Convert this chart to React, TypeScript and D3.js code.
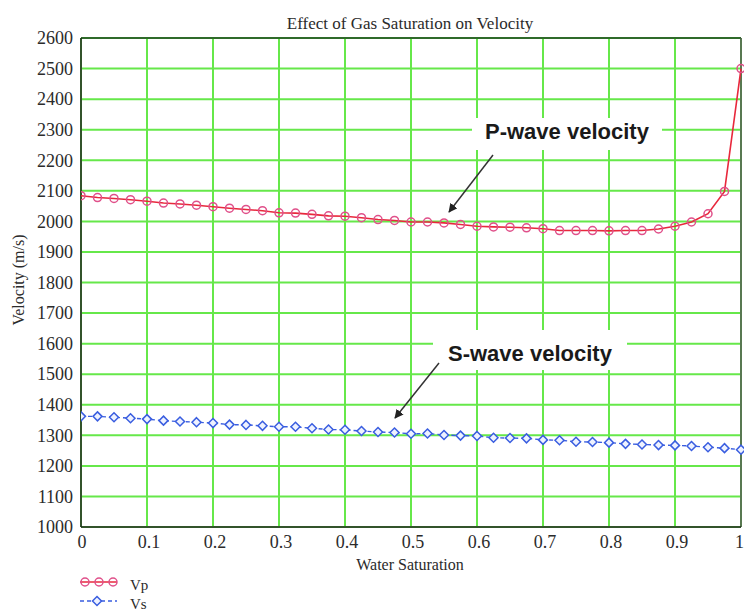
import React from "react";
import * as d3 from "d3";

const waterSaturation: number[] = d3.range(0, 41).map((i) => i / 40);
const vp: number[] = [
  2084, 2078, 2075, 2071, 2066, 2060, 2057, 2053, 2048, 2043, 2039, 2035, 2028,
  2027, 2023, 2018, 2017, 2012, 2006, 2003, 1998, 1998, 1995, 1990, 1984, 1982,
  1981, 1979, 1976, 1970, 1970, 1970, 1969, 1970, 1970, 1975, 1984, 1998, 2025,
  2098, 2500,
];
const vs: number[] = [
  1362, 1362, 1359, 1356, 1353, 1348, 1345, 1343, 1340, 1335, 1334, 1331, 1328,
  1328, 1323, 1319, 1318, 1314, 1311, 1309, 1305, 1306, 1301, 1299, 1298, 1292,
  1291, 1290, 1285, 1284, 1279, 1278, 1276, 1272, 1270, 1268, 1267, 1265, 1261,
  1258, 1253,
];
const yTicks: number[] = d3.range(1000, 2601, 100);
const xTicks: number[] = [0, 0.1, 0.2, 0.3, 0.4, 0.5, 0.6, 0.7, 0.8, 0.9, 1];
const xTickLabels: string[] = ["0", "0.1", "0.2", "0.3", "0.4", "0.5", "0.6", "0.7", "0.8", "0.9", "1"];
const legendLabels: string[] = ["Vp", "Vs"];

const W = 744;
const H = 613;
const L = 81, R = 741, T = 38, B = 527;

const serifStyle = { fontFamily: '"Liberation Serif", "Times New Roman", "DejaVu Serif", serif' };
const sansStyle = { fontFamily: '"Liberation Sans", Arial, sans-serif', fontWeight: 700 };

export default function App() {
  const x = d3.scaleLinear().domain([0, 1]).range([L, R]);
  const y = d3.scaleLinear().domain([1000, 2600]).range([B, T]);
  const vpPts = waterSaturation.map((w, i) => [w, vp[i]] as [number, number]);
  const vsPts = waterSaturation.map((w, i) => [w, vs[i]] as [number, number]);
  const line = d3.line<[number, number]>().x((d) => x(d[0])).y((d) => y(d[1]));
  const grid = "#66e84a";
  const vpLine = "#e8283c";
  const vpMark = "#e0508a";
  const vsCol = "#3a5ee0";
  const ink = "#2b2b2b";
  const diamond = (cx: number, cy: number, s: number) =>
    `M${cx},${cy - s}L${cx + s},${cy}L${cx},${cy + s}L${cx - s},${cy}Z`;

  return (
    <div style={{ position: "absolute", left: 0, top: 0 }}>
      <svg width={W} height={H} style={{ display: "block", background: "#fff" }}>
        <defs>
          <clipPath id="plot">
            <rect x={L} y={T - 6} width={R - L + 3} height={B - T + 6} />
          </clipPath>
          <marker id="arr" viewBox="0 0 10 10" refX="9" refY="5" markerWidth="9" markerHeight="9" orient="auto" markerUnits="userSpaceOnUse">
            <path d="M0,0L10,5L0,10Z" fill="#222" />
          </marker>
        </defs>
        <text x={410} y={29} textAnchor="middle" style={serifStyle} fontSize={17} fill={ink}>
          Effect of Gas Saturation on Velocity
        </text>
        {yTicks.map((t) => (
          <line key={"gy" + t} x1={L} x2={R} y1={y(t)} y2={y(t)} stroke={grid} strokeWidth={2} />
        ))}
        {xTicks.map((t) => (
          <line key={"gx" + t} x1={x(t)} x2={x(t)} y1={T} y2={B} stroke={grid} strokeWidth={2} />
        ))}
        <rect x={472} y={118} width={190} height={32} fill="#fff" />
        <rect x={433} y={330} width={194} height={40} fill="#fff" />
        <line x1={L} x2={R} y1={T} y2={T} stroke="#2f6a2a" strokeWidth={2} />
        <line x1={R} x2={R} y1={T} y2={B} stroke="#555" strokeWidth={1.5} />
        <line x1={L} x2={L} y1={T} y2={B} stroke="#222" strokeWidth={1.5} />
        <line x1={L} x2={R} y1={B} y2={B} stroke="#222" strokeWidth={1.5} />
        {yTicks.map((t) => (
          <text key={"ty" + t} x={73} y={y(t)} dy="0.35em" textAnchor="end" style={serifStyle} fontSize={18} fill={ink}>
            {t}
          </text>
        ))}
        {xTicks.map((t, i) => (
          <text
            key={"tx" + t}
            x={i === xTicks.length - 1 ? 744 : x(t) + (i === 0 ? 1 : 2)}
            y={548}
            textAnchor={i === xTicks.length - 1 ? "end" : "middle"}
            style={serifStyle}
            fontSize={18}
            fill={ink}
          >
            {xTickLabels[i]}
          </text>
        ))}
        <text x={410} y={570} textAnchor="middle" style={serifStyle} fontSize={16} fill={ink}>
          Water Saturation
        </text>
        <text transform="translate(24,280) rotate(-90)" textAnchor="middle" style={serifStyle} fontSize={16} fill={ink}>
          Velocity (m/s)
        </text>
        <g clipPath="url(#plot)">
          <path d={line(vpPts) || ""} fill="none" stroke={vpLine} strokeWidth={1.6} />
          {vpPts.map((p, i) => (
            <circle key={"vp" + i} cx={x(p[0])} cy={y(p[1])} r={4} fill="none" stroke={vpMark} strokeWidth={1.5} />
          ))}
          <path d={line(vsPts) || ""} fill="none" stroke={vsCol} strokeWidth={1.4} strokeDasharray="4,3" />
          {vsPts.map((p, i) => (
            <path key={"vs" + i} d={diamond(x(p[0]), y(p[1]), 4.5)} fill="#eef2ff" stroke={vsCol} strokeWidth={1.5} />
          ))}
        </g>
        <text x={485} y={139} style={sansStyle} fontSize={22} fill="#1a1a1a">
          P-wave velocity
        </text>
        <line x1={493} y1={155} x2={449} y2={212} stroke="#333" strokeWidth={1.5} markerEnd="url(#arr)" />
        <text x={448} y={361} style={sansStyle} fontSize={22} fill="#1a1a1a">
          S-wave velocity
        </text>
        <line x1={439} y1={363} x2={395} y2={418} stroke="#333" strokeWidth={1.5} markerEnd="url(#arr)" />
        <line x1={80} x2={117} y1={582} y2={582} stroke={vpLine} strokeWidth={1.6} />
        {[85, 99, 113].map((cx) => (
          <circle key={"lc" + cx} cx={cx} cy={582} r={4} fill="none" stroke={vpMark} strokeWidth={1.5} />
        ))}
        <text x={130} y={590} style={serifStyle} fontSize={15} fill={ink}>{legendLabels[0]}</text>
        <line x1={80} x2={117} y1={601} y2={601} stroke={vsCol} strokeWidth={1.4} strokeDasharray="4,3" />
        <path d={diamond(97, 601, 4.5)} fill="#eef2ff" stroke={vsCol} strokeWidth={1.5} />
        <text x={130} y={609} style={serifStyle} fontSize={15} fill={ink}>{legendLabels[1]}</text>
      </svg>
    </div>
  );
}
